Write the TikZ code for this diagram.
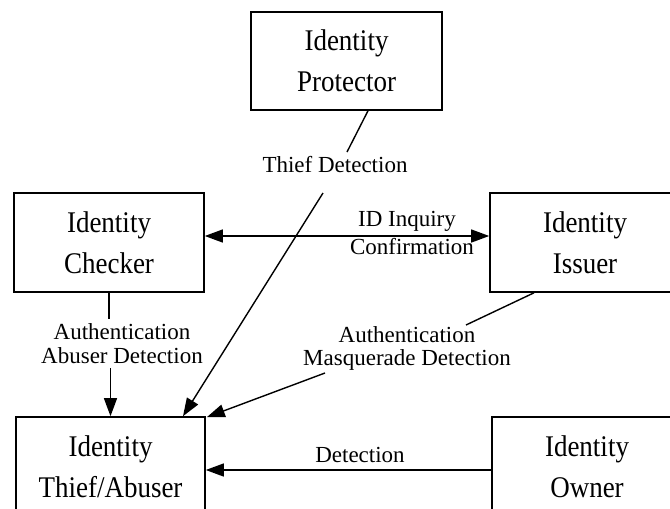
\documentclass[tikz,border=0pt]{standalone}
\usepackage{fontspec}
\setmainfont{Liberation Serif}
\newfontfamily\boxfont[FakeStretch=0.9]{Liberation Serif}
\usetikzlibrary{arrows.meta}
\begin{document}
\begin{tikzpicture}[x=1pt,y=-1pt,
  box/.style={draw, line width=1.6pt, rectangle, inner sep=0pt, align=center,
    minimum width=190pt, minimum height=99pt, font=\boxfont\fontsize{30}{41}\selectfont},
  lbl/.style={inner sep=0pt, align=center, font=\fontsize{23}{23.5}\selectfont},
  conn/.style={line width=1.4pt},
  arr/.style={conn, -{Triangle[length=18pt,width=13pt]}},
  darr/.style={conn, {Triangle[length=18pt,width=13pt]}-{Triangle[length=18pt,width=13pt]}}]
\useasboundingbox (0,0) rectangle (670,509);
\clip (0,0) rectangle (670,509);
% boxes
\node[box, minimum width=191pt, minimum height=98pt] (prot) at (346.5,61) {Identity\\Protector};
\node[box] (chk) at (109,242.5) {Identity\\Checker};
\node[box] (iss) at (585,242.5) {Identity\\Issuer};
\node[box, minimum width=189pt] (thief) at (110.5,466.5) {Identity\\Thief/Abuser};
\node[box] (own) at (587,466.5) {Identity\\Owner};
% labels
\node[lbl] (ltd) at (335,165) {Thief Detection};
\node[lbl] (lidq) at (407,221) {ID Inquiry};
\node[lbl] (lconf) at (412,247) {Confirmation};
\node[lbl] (labu) at (122,343.5) {Authentication\\Abuser Detection};
\node[lbl] (lmas) at (407,348.5) {Authentication\\Masquerade Detection};
\node[lbl] (ldet) at (360,455) {Detection};
% free-end coordinates
\coordinate (p1) at (347,152);
\coordinate (p2) at (323,193);
\coordinate (c1) at (109,319);
\coordinate (c2) at (110.5,368);
\coordinate (i1) at (466,325);
\coordinate (i2) at (325,373);
% connectors
\draw[conn] ([xshift=21.5pt]prot.south) -- (p1);
\draw[arr] (p2) -- ([xshift=72.5pt]thief.north);
\draw[conn] (chk.south) -- (c1);
\draw[arr] (c2) -- (thief.north);
\draw[conn] ([xshift=-51pt]iss.south) -- (i1);
\draw[arr] (i2) -- ([xshift=1pt,yshift=-1pt]thief.north east);
\draw[darr] ([yshift=6.5pt]chk.east) -- ([yshift=6.5pt]iss.west);
\draw[arr] ([yshift=-3.5pt]own.west) -- ([yshift=-3.5pt]thief.east);
\end{tikzpicture}
\end{document}
